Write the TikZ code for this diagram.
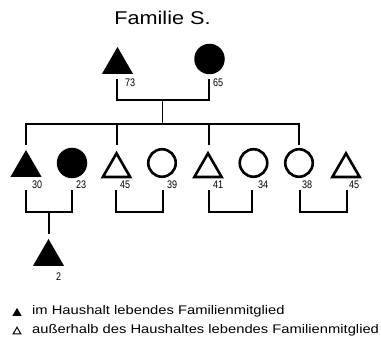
\documentclass[tikz,border=0pt]{standalone}
\usepackage{fontspec}
\setmainfont{Liberation Sans}
\usetikzlibrary{shapes.geometric}
\begin{document}
\begin{tikzpicture}[x=1pt,y=-1pt,
  conn/.style={line width=1.1pt, line join=miter},
  mfill/.style={regular polygon, regular polygon sides=3, fill=black, draw=none, minimum size=36pt, inner sep=0pt, outer sep=0pt, anchor=south},
  mopen/.style={regular polygon, regular polygon sides=3, draw=black, line width=2.6pt, minimum size=31.5pt, inner sep=0pt, outer sep=0pt, anchor=south},
  ffill/.style={circle, fill=black, draw=none, minimum size=30.5pt, inner sep=0pt, outer sep=0pt},
  fopen/.style={circle, draw=black, line width=2.6pt, minimum size=27.5pt, inner sep=0pt, outer sep=0pt},
  age/.style={anchor=base west, inner sep=0pt, font=\fontsize{11}{12}\selectfont},
  legtext/.style={anchor=base west, inner sep=0pt, font=\fontsize{12.5}{14}\selectfont}]
\useasboundingbox (0,0) rectangle (381,339);
% title
\node[anchor=base, inner sep=0pt, font=\fontsize{18.5}{20}\selectfont] (title) at (162.5,25) {\scalebox{1.17}[1]{Familie S.}};
% parents
\node[mfill] (vater) at (117.5,74) {};
\node[ffill] (mutter) at (209.5,59) {};
\node[age] (l73) at (125,87) {\scalebox{0.82}[1]{73}};
\node[age] (l65) at (213,87) {\scalebox{0.82}[1]{65}};
\coordinate (va) at (117,79);
\coordinate (mu) at (209,79);
\coordinate (ehe0) at (162.5,100);
\coordinate (sb) at (162.5,124);
\draw[conn] (va) |- (ehe0) -| (mu);
\draw[conn] (ehe0) -- (sb);
% children row
\node[mfill] (k1) at (26,177) {};
\node[ffill] (k2) at (72,163) {};
\node[mopen] (k3) at (116.5,177) {};
\node[fopen] (k4) at (162,163) {};
\node[mopen] (k5) at (208,177) {};
\node[fopen] (k6) at (253.5,163) {};
\node[fopen] (k7) at (299,163) {};
\node[mopen] (k8) at (346,177) {};
\coordinate (d1) at (26,145);
\coordinate (d3) at (117,145);
\coordinate (d5) at (209,145);
\coordinate (d7) at (299,145);
\draw[conn] (d1) |- (sb) -| (d7);
\draw[conn] (d3) -- (d3 |- sb);
\draw[conn] (d5) -- (d5 |- sb);
% ages
\node[age] (l30) at (32,189) {\scalebox{0.82}[1]{30}};
\node[age] (l23) at (76,189) {\scalebox{0.82}[1]{23}};
\node[age] (l45a) at (120,189) {\scalebox{0.82}[1]{45}};
\node[age] (l39) at (167,189) {\scalebox{0.82}[1]{39}};
\node[age] (l41) at (213,189) {\scalebox{0.82}[1]{41}};
\node[age] (l34) at (258,189) {\scalebox{0.82}[1]{34}};
\node[age] (l38) at (302,189) {\scalebox{0.82}[1]{38}};
\node[age] (l45b) at (349,189) {\scalebox{0.82}[1]{45}};
% couples
\coordinate (p1a) at (26,190); \coordinate (p1b) at (72,190); \coordinate (m1) at (49,212);
\coordinate (p2a) at (116,190); \coordinate (p2b) at (163,190); \coordinate (m2) at (139.5,212);
\coordinate (p3a) at (209,190); \coordinate (p3b) at (252,190); \coordinate (m3) at (230.5,212);
\coordinate (p4a) at (300,190); \coordinate (p4b) at (347,190); \coordinate (m4) at (323.5,212);
\draw[conn] (p1a) |- (m1) -| (p1b);
\draw[conn] (p2a) |- (m2) -| (p2b);
\draw[conn] (p3a) |- (m3) -| (p3b);
\draw[conn] (p4a) |- (m4) -| (p4b);
% grandchild
\coordinate (e1) at (49,234);
\draw[conn] (m1) -- (e1);
\node[mfill] (enkel) at (48.5,266) {};
\node[age] (l2) at (56,281) {\scalebox{0.82}[1]{2}};
% legend
\node[regular polygon, regular polygon sides=3, fill=black, minimum size=10.5pt, inner sep=0pt, anchor=south] (lg1) at (17,316) {};
\node[regular polygon, regular polygon sides=3, draw=black, line width=1pt, minimum size=9pt, inner sep=0pt, anchor=south] (lg2) at (17,334.5) {};
\node[legtext] (t1) at (32,315) {\scalebox{1.18}[1]{im Haushalt lebendes Familienmitglied}};
\node[legtext] (t2) at (32,334) {\scalebox{1.18}[1]{außerhalb des Haushaltes lebendes Familienmitglied}};
\end{tikzpicture}
\end{document}
